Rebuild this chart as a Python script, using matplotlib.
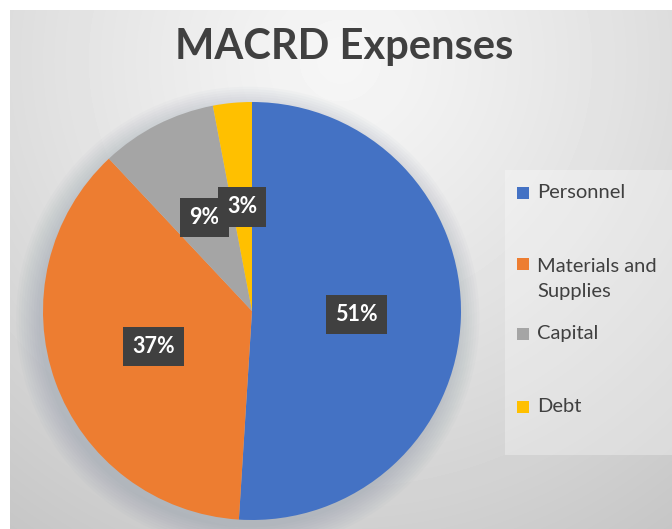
import numpy as np
import matplotlib
matplotlib.use("Agg")
import matplotlib.pyplot as plt
from matplotlib.patches import Rectangle, Circle

plt.rcParams['font.family'] = ['Lato', 'DejaVu Sans']

# data
categories = ['Personnel', 'Materials and\nSupplies', 'Capital', 'Debt']
shares = [51, 37, 9, 3]
colors = ['#4472C4', '#ED7D31', '#A5A5A5', '#FFC000']

W, H = 672, 529
fig = plt.figure(figsize=(W / 100, H / 100), dpi=100, facecolor='white')

# radial gradient background (white strip on top and left like the screenshot)
bg = fig.add_axes([10 / W, 0, (W - 10) / W, (H - 10) / H])
xx, yy = np.meshgrid(np.arange(10, W), np.arange(10, H))
d = np.hypot(xx - 340, yy - 60) / 575.0
shade = np.clip(0.965 - 0.19 * d ** 1.2, 0, 1)
bg.imshow(shade, cmap='gray', vmin=0, vmax=1, aspect='auto',
          extent=[10, W, H, 10], interpolation='bilinear')
bg.set_axis_off()

# pie
cx, cy, r = 252, 311, 209
ax = fig.add_axes([(cx - r) / W, (H - cy - r) / H, 2 * r / W, 2 * r / H])
ax.set_xlim(-1, 1)
ax.set_ylim(-1, 1)
ax.set_axis_off()

# soft shadow under the pie
for k in range(10):
    ax.add_patch(Circle((-0.02, -0.035), 1.0 + k * 0.012, color='#6d7f93',
                        alpha=0.03, lw=0, zorder=0, clip_on=False))

wedges, texts, autotexts = ax.pie(
    shares, colors=colors, startangle=90, counterclock=False,
    autopct='%1.0f%%', pctdistance=0.5, radius=1,
    wedgeprops=dict(linewidth=0),
    textprops=dict(color='white', fontweight='bold', fontsize=15.5))
for w in wedges:
    w.set_zorder(2)
for t in autotexts:
    t.set_zorder(5)
    t.set_bbox(dict(boxstyle='square,pad=0.42', fc='#404040', ec='none'))
ax.set_xlim(-1, 1)
ax.set_ylim(-1, 1)

# title
fig.text(344 / W, 1 - 47 / H, 'MACRD Expenses', ha='center', va='center',
         fontsize=30, fontweight='bold', color='#404040')

# legend box
lx0, ly0, lw, lh = 505, 170, 167, 285
lg = fig.add_axes([lx0 / W, (H - ly0 - lh) / H, lw / W, lh / H])
lg.set_xlim(0, lw)
lg.set_ylim(lh, 0)
lg.patch.set_facecolor('white')
lg.patch.set_alpha(0.3)
for s in lg.spines.values():
    s.set_visible(False)
lg.set_xticks([])
lg.set_yticks([])

marker_y = [23, 94, 164, 237]
text_y = [23, 109, 164, 237]
for lab, col, my, ty in zip(categories, colors, marker_y, text_y):
    lg.add_patch(Rectangle((12, my - 6), 12, 12, color=col, lw=0))
    lg.text(32, ty, lab, ha='left', va='center', fontsize=14.5,
            color='#404040', linespacing=1.5)

fig.savefig('out.png', dpi=100, facecolor='white')
